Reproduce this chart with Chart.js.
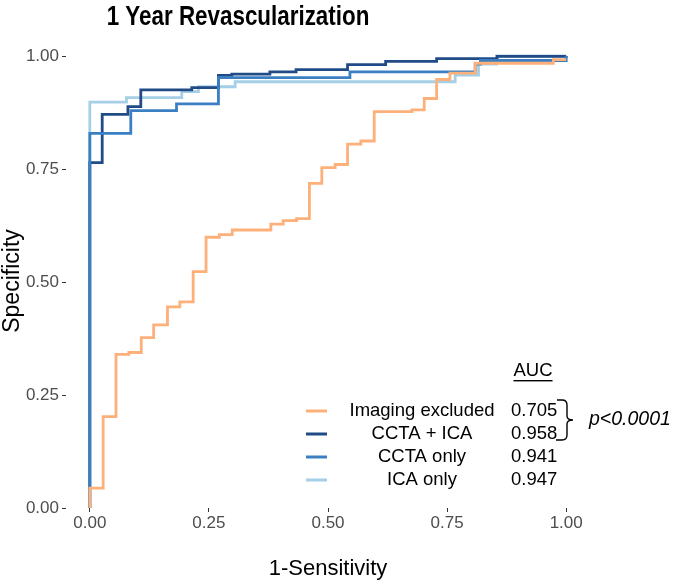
<!DOCTYPE html>
<html><head><meta charset="utf-8">
<script src="https://cdn.jsdelivr.net/npm/chart.js@4/dist/chart.umd.min.js"></script>
<style>html,body{margin:0;padding:0;background:#fff}#wrap{width:680px;height:582px}</style>
</head><body><div id="wrap"><canvas id="c" width="680" height="582"></canvas></div>
<script>
const chartTitle = "1 Year Revascularization";
const xTitle = "1-Sensitivity";
const yTitle = "Specificity";
const seriesNames = ["Imaging excluded", "CCTA + ICA", "CCTA only", "ICA only"];
const aucValues = ["0.705", "0.958", "0.941", "0.947"];
const pText = "p<0.0001";
const tickValues = [0, 0.25, 0.5, 0.75, 1];

const excludedX = [0, 0, 0.028, 0.055, 0.082, 0.108, 0.134, 0.163, 0.189, 0.217, 0.244, 0.272, 0.299, 0.380, 0.406, 0.434, 0.461, 0.487, 0.515, 0.541, 0.569, 0.597, 0.676, 0.702, 0.728, 0.756, 0.809, 0.973, 1.0];
const excludedY = [0, 0.044, 0.202, 0.340, 0.344, 0.377, 0.405, 0.445, 0.456, 0.523, 0.599, 0.605, 0.615, 0.628, 0.636, 0.640, 0.718, 0.753, 0.760, 0.805, 0.812, 0.877, 0.881, 0.906, 0.948, 0.962, 0.984, 0.992, 0.992];

const bothX = [0, 0, 0.026, 0.080, 0.107, 0.214, 0.270, 0.298, 0.378, 0.433, 0.541, 0.621, 0.728, 0.855, 1.0];
const bothY = [0, 0.764, 0.871, 0.888, 0.925, 0.930, 0.957, 0.960, 0.965, 0.970, 0.981, 0.988, 0.994, 0.999, 1.0];

const cctaX = [0, 0, 0.086, 0.182, 0.270, 0.546, 0.809, 0.820, 1.0];
const cctaY = [0, 0.829, 0.879, 0.894, 0.952, 0.965, 0.982, 0.990, 1.0];

const icaX = [0, 0, 0.077, 0.193, 0.228, 0.305, 0.767, 0.816, 0.854, 1.0];
const icaY = [0, 0.898, 0.908, 0.921, 0.932, 0.943, 0.958, 0.982, 1.0, 1.0];

const colors = ["#fdb07a", "#214b87", "#3b7fc2", "#a5cfe6"];
const FONT = "'Liberation Sans', Arial, sans-serif";

function pts(xs, ys) { return xs.map((x, i) => ({x: x, y: ys[i]})); }

const seriesData = [pts(excludedX, excludedY), pts(bothX, bothY), pts(cctaX, cctaY), pts(icaX, icaY)];
const drawOrder = [1, 3, 2, 4];

const datasets = seriesData.map((d, i) => ({
  label: seriesNames[i],
  data: d,
  borderColor: colors[i],
  backgroundColor: colors[i],
  borderWidth: 2.8,
  pointRadius: 0,
  stepped: 'before',
  fill: false,
  clip: 6,
  order: drawOrder[i]
}));

const extras = {
  id: 'extras',
  afterDraw(chart) {
    const ctx = chart.ctx;
    ctx.save();
    // title (condensed, tall)
    ctx.fillStyle = '#000';
    ctx.save();
    ctx.translate(238, 17);
    ctx.scale(0.8, 1);
    ctx.font = "bold 28px " + FONT;
    ctx.textAlign = 'center';
    ctx.textBaseline = 'middle';
    ctx.fillText(chartTitle, 0, 0);
    ctx.restore();
    ctx.textAlign = 'center';
    ctx.textBaseline = 'middle';
    // axis titles
    ctx.font = "22px " + FONT;
    ctx.fillText(xTitle, 328, 569);
    ctx.save();
    ctx.translate(13, 281);
    ctx.rotate(-Math.PI / 2);
    ctx.font = "23px " + FONT;
    ctx.fillText(yTitle, 0, 0);
    ctx.restore();
    // legend
    const rows = [411, 434, 457, 480];
    ctx.font = "18.5px " + FONT;
    ctx.fillText("AUC", 533, 371);
    const w = ctx.measureText("AUC").width;
    ctx.fillRect(533 - w / 2, 380, w, 1.4);
    for (let i = 0; i < 4; i++) {
      ctx.strokeStyle = colors[i];
      ctx.lineWidth = 3;
      ctx.beginPath();
      ctx.moveTo(306, rows[i]);
      ctx.lineTo(327, rows[i]);
      ctx.stroke();
      ctx.textAlign = 'center';
      ctx.fillText(seriesNames[i], 422, rows[i]);
      ctx.textAlign = 'left';
      ctx.fillText(aucValues[i], 511, rows[i]);
    }
    // bracket
    ctx.strokeStyle = '#000';
    ctx.lineWidth = 1.4;
    ctx.beginPath();
    ctx.moveTo(557, 400);
    ctx.lineTo(562, 400);
    ctx.quadraticCurveTo(567, 400, 567, 405);
    ctx.lineTo(567, 416);
    ctx.quadraticCurveTo(567, 420, 573, 420);
    ctx.quadraticCurveTo(567, 420, 567, 424);
    ctx.lineTo(567, 435);
    ctx.quadraticCurveTo(567, 440, 562, 440);
    ctx.lineTo(556, 440);
    ctx.stroke();
    ctx.font = "italic 19.5px " + FONT;
    ctx.textAlign = 'left';
    ctx.fillText(pText, 589, 420);
    ctx.restore();
  }
};

const tickFont = {family: FONT, size: 17};
new Chart(document.getElementById('c'), {
  type: 'line',
  data: {datasets: datasets},
  options: {
    responsive: false,
    animation: false,
    devicePixelRatio: 1,
    layout: {padding: {top: 56, right: 90, left: 0, bottom: 0}},
    plugins: {legend: {display: false}, tooltip: {enabled: false}, title: {display: false}},
    scales: {
      x: {
        type: 'linear', min: -0.05, max: 1.05,
        afterBuildTicks: s => { s.ticks = tickValues.map(v => ({value: v})); },
        afterFit: s => { s.height = 74; },
        ticks: {callback: v => Number(v).toFixed(2), font: tickFont, color: '#4d4d4d', padding: 1, maxRotation: 0, autoSkip: false},
        grid: {drawOnChartArea: false, drawTicks: true, tickLength: 4, color: '#333'},
        border: {display: false}
      },
      y: {
        type: 'linear', min: 0, max: 1,
        afterBuildTicks: s => { s.ticks = tickValues.map(v => ({value: v})); },
        afterFit: s => { s.width = 66; },
        ticks: {callback: v => Number(v).toFixed(2), font: tickFont, color: '#4d4d4d', padding: 3, autoSkip: false},
        grid: {drawOnChartArea: false, drawTicks: true, tickLength: 4, color: '#333'},
        border: {display: false}
      }
    }
  },
  plugins: [extras]
});
</script>
</body></html>
